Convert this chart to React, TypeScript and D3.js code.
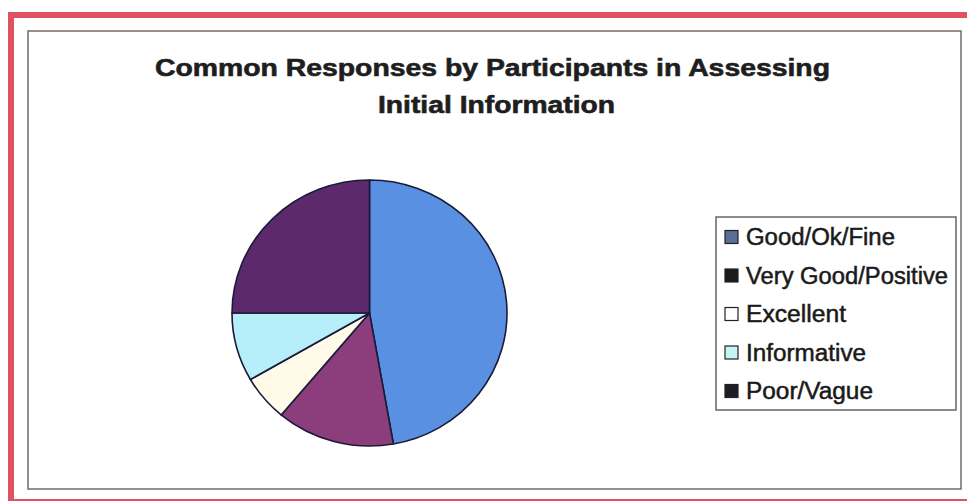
import React from "react";
import * as d3 from "d3";

const categories = ["Good/Ok/Fine", "Very Good/Positive", "Excellent", "Informative", "Poor/Vague"];
const values = [17, 5, 2, 3, 9];
const sliceColors = ["#5a90e2", "#8c3d7b", "#fffbe8", "#b6effa", "#5c2a6c"];
const swatchColors = ["#5a6e98", "#1c1a1e", "#ffffff", "#c6f4f2", "#1e1c26"];
const titleLines = ["Common Responses by Participants in Assessing", "Initial Information"];

const W = 967;
const H = 501;

export default function App() {
  const cx = 369.5;
  const cy = 313;
  const rx = 137.5;
  const ry = 133;
  const pie = d3.pie<number>().sort(null).startAngle(0).endAngle(2 * Math.PI);
  const arcs = pie(values);
  const arc = d3.arc<d3.PieArcDatum<number>>().innerRadius(0).outerRadius(rx);
  const font = "'Liberation Sans', Arial, Helvetica, sans-serif";

  const legendX = 716;
  const legendY = 217;
  const legendW = 240;
  const legendH = 193;
  const rowStep = 38.5;
  const legendWidths = [149, 202, 100, 120, 127];

  return (
    <svg
      width={W}
      height={H}
      style={{ position: "absolute", left: 0, top: 0, background: "#fff" }}
    >
      <rect x={0} y={0} width={W} height={H} fill="#ffffff" />
      {/* outer red frame */}
      <rect x={11} y={15} width={970} height={487} fill="none" stroke="#df5261" strokeWidth={6} />
      {/* inner gray frame */}
      <rect x={28} y={31} width={933} height={458} fill="none" stroke="#756b63" strokeWidth={1.5} />

      {/* title */}
      <text
        x={492.5}
        y={76}
        textAnchor="middle"
        fontFamily={font}
        fontWeight="bold"
        fontSize={24}
        fill="#1e1e1e"
        stroke="#1e1e1e"
        strokeWidth={0.6}
        textLength={675}
        lengthAdjust="spacingAndGlyphs"
      >
        {titleLines[0]}
      </text>
      <text
        x={496.5}
        y={113}
        textAnchor="middle"
        fontFamily={font}
        fontWeight="bold"
        fontSize={24}
        fill="#1e1e1e"
        stroke="#1e1e1e"
        strokeWidth={0.6}
        textLength={237}
        lengthAdjust="spacingAndGlyphs"
      >
        {titleLines[1]}
      </text>

      {/* pie */}
      <g transform={`translate(${cx},${cy}) scale(1,${ry / rx})`}>
        {arcs.map((a, i) => (
          <path
            key={i}
            d={arc(a) || ""}
            fill={sliceColors[i]}
            stroke="#1a1a3a"
            strokeWidth={1.6}
            strokeLinejoin="round"
          />
        ))}
      </g>

      {/* legend */}
      <rect
        x={legendX}
        y={legendY}
        width={legendW}
        height={legendH}
        fill="#fff"
        stroke="#666"
        strokeWidth={1.5}
      />
      {categories.map((c, i) => {
        const y = 237 + i * rowStep;
        return (
          <g key={c}>
            <rect
              x={725}
              y={y - 6.5}
              width={13}
              height={13}
              fill={swatchColors[i]}
              stroke="#222"
              strokeWidth={1.2}
            />
            <text
              x={746}
              y={y + 8}
              fontFamily={font}
              fontSize={23}
              fill="#1a1a1a"
              stroke="#1a1a1a"
              strokeWidth={0.5}
              textLength={legendWidths[i]}
              lengthAdjust="spacingAndGlyphs"
            >
              {c}
            </text>
          </g>
        );
      })}
    </svg>
  );
}
